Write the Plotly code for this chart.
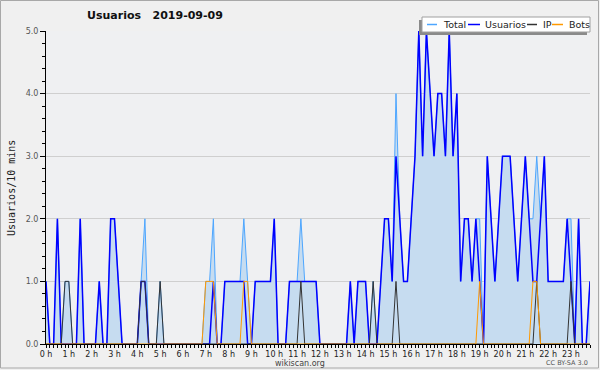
import plotly.graph_objects as go

# 10-minute slots (minutes since midnight)
slots = list(range(0, 1440, 10))

hour_ticks = [0, 60, 120, 180, 240, 300, 360, 420, 480, 540, 600, 660,
              720, 780, 840, 900, 960, 1020, 1080, 1140, 1200, 1260, 1320, 1380]
hour_labels = ["0 h", "1 h", "2 h", "3 h", "4 h", "5 h", "6 h", "7 h", "8 h", "9 h",
               "10 h", "11 h", "12 h", "13 h", "14 h", "15 h", "16 h", "17 h",
               "18 h", "19 h", "20 h", "21 h", "22 h", "23 h"]

# one row per hour, 6 values per row
total = [
    1, 0, 0, 2, 0, 1,
    1, 0, 0, 2, 0, 0,
    0, 0, 1, 0, 0, 2,
    2, 1, 0, 0, 0, 0,
    0, 1, 2, 0, 0, 0,
    1, 0, 0, 0, 0, 0,
    0, 0, 0, 0, 0, 0,
    1, 1, 2, 0, 0, 1,
    1, 1, 1, 1, 2, 1,
    0, 1, 1, 1, 1, 1,
    2, 0, 0, 0, 1, 1,
    1, 2, 1, 1, 1, 1,
    0, 0, 0, 0, 0, 0,
    0, 0, 1, 0, 1, 1,
    1, 0, 1, 0, 1, 2,
    2, 1, 4, 2, 1, 1,
    2, 3, 5, 3, 5, 4,
    3, 4, 4, 3, 5, 3,
    4, 1, 2, 2, 1, 2,
    2, 0, 3, 2, 1, 2,
    3, 3, 3, 2, 1, 2,
    3, 2, 2, 3, 2, 3,
    1, 1, 1, 1, 1, 2,
    2, 0, 2, 0, 0, 1,
]

usuarios = [
    1, 0, 0, 2, 0, 0,
    0, 0, 0, 2, 0, 0,
    0, 0, 1, 0, 0, 2,
    2, 1, 0, 0, 0, 0,
    0, 1, 1, 0, 0, 0,
    0, 0, 0, 0, 0, 0,
    0, 0, 0, 0, 0, 0,
    0, 0, 1, 0, 0, 1,
    1, 1, 1, 1, 1, 0,
    0, 1, 1, 1, 1, 1,
    2, 0, 0, 0, 1, 1,
    1, 1, 1, 1, 1, 1,
    0, 0, 0, 0, 0, 0,
    0, 0, 1, 0, 1, 1,
    1, 0, 0, 0, 1, 2,
    2, 1, 3, 2, 1, 1,
    2, 3, 5, 3, 5, 4,
    3, 4, 4, 3, 5, 3,
    4, 1, 2, 2, 1, 2,
    1, 0, 3, 2, 1, 2,
    3, 3, 3, 2, 1, 2,
    3, 2, 1, 1, 2, 3,
    1, 1, 1, 1, 1, 2,
    1, 0, 2, 0, 0, 1,
]

ip = [
    0, 0, 0, 0, 0, 1,
    1, 0, 0, 0, 0, 0,
    0, 0, 0, 0, 0, 0,
    0, 0, 0, 0, 0, 0,
    0, 1, 1, 0, 0, 0,
    1, 0, 0, 0, 0, 0,
    0, 0, 0, 0, 0, 0,
    0, 0, 0, 0, 0, 0,
    0, 0, 0, 0, 0, 0,
    0, 0, 0, 0, 0, 0,
    0, 0, 0, 0, 0, 0,
    0, 1, 0, 0, 0, 0,
    0, 0, 0, 0, 0, 0,
    0, 0, 0, 0, 0, 0,
    0, 0, 1, 0, 0, 0,
    0, 0, 1, 0, 0, 0,
    0, 0, 0, 0, 0, 0,
    0, 0, 0, 0, 0, 0,
    0, 0, 0, 0, 0, 0,
    0, 0, 0, 0, 0, 0,
    0, 0, 0, 0, 0, 0,
    0, 0, 0, 1, 0, 0,
    0, 0, 0, 0, 0, 0,
    1, 0, 0, 0, 0, 0,
]

bots = [
    0, 0, 0, 0, 0, 0,
    0, 0, 0, 0, 0, 0,
    0, 0, 0, 0, 0, 0,
    0, 0, 0, 0, 0, 0,
    0, 0, 0, 0, 0, 0,
    0, 0, 0, 0, 0, 0,
    0, 0, 0, 0, 0, 0,
    1, 1, 1, 0, 0, 0,
    0, 0, 0, 0, 1, 1,
    0, 0, 0, 0, 0, 0,
    0, 0, 0, 0, 0, 0,
    0, 0, 0, 0, 0, 0,
    0, 0, 0, 0, 0, 0,
    0, 0, 0, 0, 0, 0,
    0, 0, 0, 0, 0, 0,
    0, 0, 0, 0, 0, 0,
    0, 0, 0, 0, 0, 0,
    0, 0, 0, 0, 0, 0,
    0, 0, 0, 0, 0, 0,
    1, 0, 0, 0, 0, 0,
    0, 0, 0, 0, 0, 0,
    0, 0, 1, 1, 0, 0,
    0, 0, 0, 0, 0, 0,
    0, 0, 0, 0, 0, 0,
]

series_names = ["Total", "Usuarios", "IP", "Bots"]
series_colors = ["#4da6ff", "#0000ff", "#333333", "#ff9900"]

W, H = 600, 370
L, R, T, B = 46, 10, 31, 26
PW, PH = W - L - R, H - T - B


def px(x):
    return (x - L) / PW


def py(y):
    return (H - B - y) / PH


fig = go.Figure()
fig.add_trace(go.Scatter(x=slots, y=total, mode="lines", name="Total",
                         line=dict(color=series_colors[0], width=1),
                         fill="tozeroy", fillcolor="#c6dcf0", showlegend=False))
fig.add_trace(go.Scatter(x=slots, y=usuarios, mode="lines", name="Usuarios",
                         line=dict(color=series_colors[1], width=1.5), showlegend=False))
fig.add_trace(go.Scatter(x=slots, y=ip, mode="lines", name="IP",
                         line=dict(color=series_colors[2], width=1), showlegend=False))
fig.add_trace(go.Scatter(x=slots, y=bots, mode="lines", name="Bots",
                         line=dict(color=series_colors[3], width=1), showlegend=False))

shapes = []
annotations = []

# outer border
shapes.append(dict(type="rect", xref="paper", yref="paper",
                   x0=px(0.5), x1=px(598.5), y0=py(0.5), y1=py(368),
                   line=dict(color="#a8a8a8", width=1), fillcolor="rgba(0,0,0,0)", layer="above"))

# legend box with shadow
shapes.append(dict(type="rect", xref="paper", yref="paper",
                   x0=px(419), x1=px(587), y0=py(20), y1=py(35),
                   line=dict(width=0), fillcolor="#8a8a8a", layer="above"))
shapes.append(dict(type="rect", xref="paper", yref="paper",
                   x0=px(422), x1=px(590), y0=py(17), y1=py(32),
                   line=dict(color="#a0a0a0", width=1), fillcolor="white", layer="above"))
leg_lines = [(427, 437), (468, 480), (527, 537), (552, 563)]
leg_text_x = [441, 483, 541, 567]
for (a, b), tx, name, col in zip(leg_lines, leg_text_x, series_names, series_colors):
    shapes.append(dict(type="line", xref="paper", yref="paper",
                       x0=px(a), x1=px(b), y0=py(24.5), y1=py(24.5),
                       line=dict(color=col, width=1.5), layer="above"))
    annotations.append(dict(text=name, xref="paper", yref="paper",
                            x=px(tx), y=py(24.5), xanchor="left", yanchor="middle",
                            showarrow=False, font=dict(family="DejaVu Sans", size=9.5, color="#222")))

# title
annotations.append(dict(text="Usuarios\u00a0\u00a0\u00a02019-09-09", xref="paper", yref="paper",
                        x=px(85), y=py(16), xanchor="left", yanchor="middle", showarrow=False,
                        font=dict(family="DejaVu Sans", size=11, color="#111", weight="bold")))
# y-axis title
annotations.append(dict(text="Usuarios/10 mins", xref="paper", yref="paper",
                        x=px(11), y=py(188), xanchor="center", yanchor="middle", showarrow=False,
                        textangle=-90,
                        font=dict(family="DejaVu Sans Mono", size=10, color="#222")))
# footers
annotations.append(dict(text="wikiscan.org", xref="paper", yref="paper",
                        x=px(300), y=py(363), xanchor="center", yanchor="middle", showarrow=False,
                        borderpad=0,
                        font=dict(family="DejaVu Sans", size=8, color="#444")))
annotations.append(dict(text="CC BY-SA 3.0", xref="paper", yref="paper",
                        x=px(589), y=py(363), xanchor="right", yanchor="middle", showarrow=False,
                        borderpad=0,
                        font=dict(family="DejaVu Sans", size=6.5, color="#555")))

fig.update_layout(
    width=W, height=H,
    margin=dict(l=L, r=R, t=T, b=B, pad=0),
    paper_bgcolor="#f0f0f0",
    plot_bgcolor="#eff0f2",
    showlegend=False,
    shapes=shapes,
    annotations=annotations,
    font=dict(family="DejaVu Sans", size=8, color="#333"),
)
fig.update_xaxes(
    range=[0, 1430], tickmode="array", tickvals=hour_ticks, ticktext=hour_labels,
    ticks="outside", ticklen=2, tickcolor="black", showgrid=False, zeroline=False,
    showline=True, linecolor="black", linewidth=1,
    tickfont=dict(family="DejaVu Sans", size=8, color="#222"),
    minor=dict(tickmode="linear", tick0=0, dtick=10, ticks="outside", ticklen=3,
               tickcolor="black", showgrid=False),
    fixedrange=True,
)
fig.update_yaxes(
    range=[0, 5], tickmode="linear", tick0=0, dtick=1, tickformat=".1f",
    ticks="outside", ticklen=5, tickcolor="black", showgrid=True, gridcolor="#cfcfcf",
    gridwidth=1, zeroline=False, showline=True, linecolor="black", linewidth=1,
    tickfont=dict(family="DejaVu Sans", size=8, color="#555"),
    minor=dict(tickmode="linear", tick0=0, dtick=0.2, ticks="outside", ticklen=3,
               tickcolor="black", showgrid=False),
    fixedrange=True,
)

fig.write_html("out.html", config={"displayModeBar": False},
               post_script="document.body.style.margin='0';document.body.style.padding='0';")
